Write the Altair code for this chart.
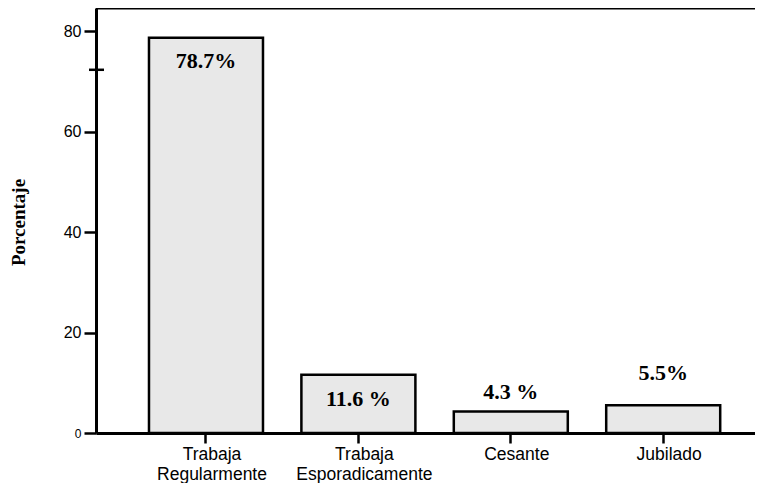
import altair as alt
import pandas as pd

categories = ["Trabaja Regularmente", "Trabaja Esporadicamente", "Cesante", "Jubilado"]
values = [78.7, 11.6, 4.3, 5.5]
labels = ["78.7%", "11.6 %", "4.3 %", "5.5%"]
label_dy = [23, 24, -19, -32]
y_ticks = [0, 20, 40, 60, 80]
stray_tick = [72.3]

df = pd.DataFrame({"cat": categories, "val": values, "lab": labels})

W, H = 659, 425
ydom = [0, 84.6]

xscale = alt.Scale(domain=categories, paddingInner=0.252, paddingOuter=0.288, align=0.6036)
yscale = alt.Scale(domain=ydom, nice=False, zero=True)

x_axis = alt.Axis(
    title=None, labelAngle=0, labelExpr="split(datum.value, ' ')",
    labelFont="Liberation Sans", labelFontSize=17.5, labelColor="black",
    labelLineHeight=20, labelPadding=2, labelBaseline="top", labelOffset=6,
    tickSize=10, tickWidth=2.5, tickColor="black",
    domainColor="black", domainWidth=3, grid=False,
)
y_axis = alt.Axis(
    title="Porcentaje", values=y_ticks,
    labelFont="Liberation Sans", labelColor="black",
    labelFontSize={"condition": {"test": "datum.value == 0", "value": 12}, "value": 16},
    labelPadding=3, tickSize=12, tickWidth=2.5, tickColor="black",
    domainColor="black", domainWidth=3, grid=False,
    titleFont="Liberation Serif", titleFontWeight="bold", titleFontSize=19,
    titleColor="black", titleX=-78, titleY=214, titleAngle=-90,
    titleAlign="center", titleBaseline="middle",
)

bars = alt.Chart(df).mark_bar(fill="#e8e8e8", stroke="black", strokeWidth=2.5).encode(
    x=alt.X("cat:N", sort=categories, scale=xscale, axis=x_axis),
    y=alt.Y("val:Q", scale=yscale, axis=y_axis),
)

texts = []
for i, c in enumerate(categories):
    t = alt.Chart(df[df["cat"] == c]).mark_text(
        font="Liberation Serif", fontWeight="bold", fontSize=22, color="black",
        baseline="middle", align="center", dy=label_dy[i],
    ).encode(
        x=alt.X("cat:N", sort=categories, scale=xscale),
        y=alt.Y("val:Q", scale=yscale),
        text="lab:N",
    )
    texts.append(t)

top_line = alt.Chart(pd.DataFrame({"v": [ydom[1]]})).mark_rule(color="black", strokeWidth=3).encode(
    y=alt.Y("v:Q", scale=yscale), x=alt.value(0), x2=alt.value(W),
)

stray = alt.Chart(pd.DataFrame({"v": stray_tick})).mark_rule(color="black", strokeWidth=2.5).encode(
    y=alt.Y("v:Q", scale=yscale), x=alt.value(-7), x2=alt.value(8),
)

chart = alt.layer(bars, *texts, top_line, stray).properties(
    width=W, height=H,
    autosize=alt.AutoSizeParams(type="none"),
    padding={"left": 88, "top": 0, "right": 0, "bottom": 50},
).configure_view(stroke=None).configure(background="white")

chart.save("out.html", embed_options={"renderer": "svg", "actions": False})
